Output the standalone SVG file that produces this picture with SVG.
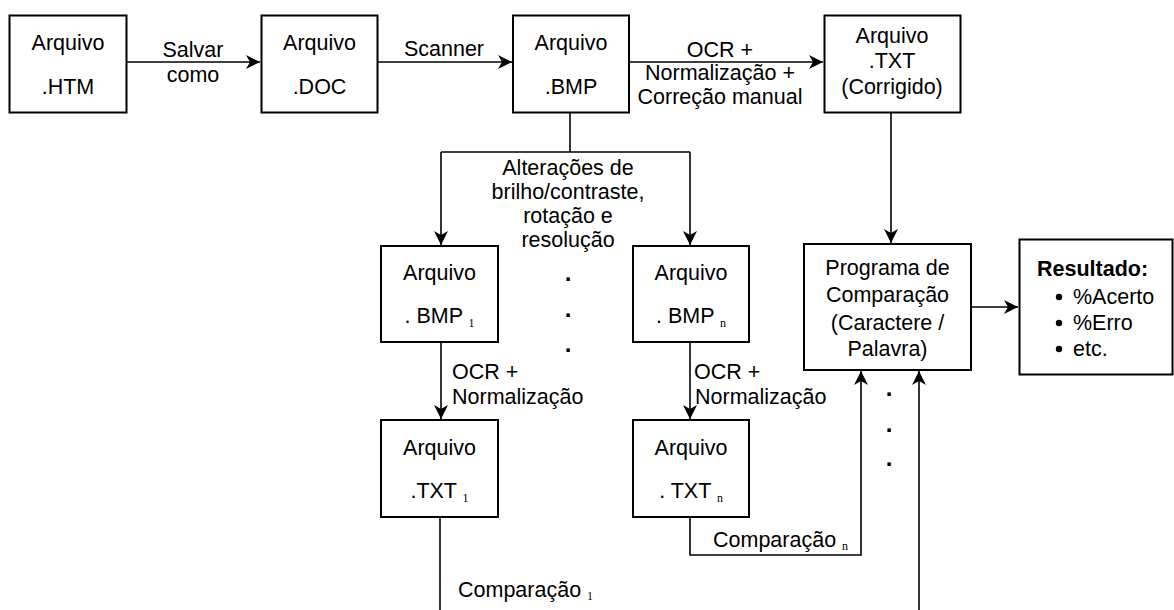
<svg xmlns="http://www.w3.org/2000/svg" width="1174" height="610" viewBox="0 0 1174 610">
<defs>
<style>
.box{fill:#fff;stroke:#000;stroke-width:2}
.ln{fill:none;stroke:#000;stroke-width:1.6}
.t{font-family:"Liberation Sans",Arial,sans-serif;font-size:21.5px;fill:#000}
.c{text-anchor:middle}
.b{font-weight:bold}
.sub{font-family:"Liberation Serif","Times New Roman",serif;font-size:12px}
.dot{font-family:"Liberation Sans",Arial,sans-serif;font-size:24px;font-weight:bold;text-anchor:middle;fill:#000}
</style>
<marker id="arr" markerWidth="16" markerHeight="16" viewBox="-1 -8 16 16" refX="14" refY="0" orient="auto" markerUnits="userSpaceOnUse">
<path d="M0,-7 L14,0 L0,7 L4,0 Z" fill="#000"/>
</marker>
</defs>
<rect width="1174" height="610" fill="#fff"/>

<g id="connectors">
<path class="ln" d="M126,62 H260" marker-end="url(#arr)"/>
<path class="ln" d="M378,62 H512" marker-end="url(#arr)"/>
<path class="ln" d="M629,62 H823" marker-end="url(#arr)"/>
<path class="ln" d="M570,113 V152"/>
<path class="ln" d="M441,152 H690"/>
<path class="ln" d="M441,152 V245" marker-end="url(#arr)"/>
<path class="ln" d="M690,152 V245" marker-end="url(#arr)"/>
<path class="ln" d="M441,342 V419" marker-end="url(#arr)"/>
<path class="ln" d="M690,342 V419" marker-end="url(#arr)"/>
<path class="ln" d="M891,113 V243" marker-end="url(#arr)"/>
<path class="ln" d="M440,517 V612"/>
<path class="ln" d="M690,517 V555 H861 V371" marker-end="url(#arr)"/>
<path class="ln" d="M919,612 V371" marker-end="url(#arr)"/>
<path class="ln" d="M971,307 H1018" marker-end="url(#arr)"/>
</g>

<g id="labels">
<text class="t c" x="193" y="57">Salvar</text>
<text class="t c" x="193" y="82">como</text>
<text class="t c" x="444" y="56">Scanner</text>
<text class="t c" x="720" y="57">OCR +</text>
<text class="t c" x="720" y="80">Normalização +</text>
<text class="t c" x="720" y="104">Correção manual</text>
<text class="t c" x="568" y="175">Alterações de</text>
<text class="t c" x="568" y="199">brilho/contraste,</text>
<text class="t c" x="568" y="223">rotação e</text>
<text class="t c" x="568" y="247">resolução</text>
<text class="dot" x="568" y="281">.</text>
<text class="dot" x="568" y="317">.</text>
<text class="dot" x="568" y="352">.</text>
<text class="t" x="452" y="379">OCR +</text>
<text class="t" x="452" y="404">Normalização</text>
<text class="t" x="694" y="379">OCR +</text>
<text class="t" x="695" y="404">Normalização</text>
<text class="t" x="713" y="547">Comparação <tspan class="sub" dy="3">n</tspan></text>
<text class="t" x="458" y="597">Comparação <tspan class="sub" dy="3">1</tspan></text>
<text class="dot" x="889" y="396">.</text>
<text class="dot" x="889" y="432">.</text>
<text class="dot" x="889" y="466">.</text>
</g>

<g id="n-htm">
<rect class="box" x="9.5" y="15.5" width="117" height="97"/>
<text class="t c" x="68" y="50">Arquivo</text>
<text class="t c" x="68" y="94">.HTM</text>
</g>
<g id="n-doc">
<rect class="box" x="261.5" y="15.5" width="116" height="97"/>
<text class="t c" x="319.5" y="50">Arquivo</text>
<text class="t c" x="319.5" y="94">.DOC</text>
</g>
<g id="n-bmp">
<rect class="box" x="513" y="15.5" width="116" height="97"/>
<text class="t c" x="571" y="50">Arquivo</text>
<text class="t c" x="571" y="94">.BMP</text>
</g>
<g id="n-txtc">
<rect class="box" x="824.5" y="15.5" width="136" height="97"/>
<text class="t c" x="892" y="43">Arquivo</text>
<text class="t c" x="892" y="68">.TXT</text>
<text class="t c" x="892" y="94">(Corrigido)</text>
</g>
<g id="n-bmp1">
<rect class="box" x="381" y="246" width="117" height="96"/>
<text class="t c" x="439.5" y="280">Arquivo</text>
<text class="t c" x="439.5" y="323">. BMP <tspan class="sub" dy="4">1</tspan></text>
</g>
<g id="n-bmpn">
<rect class="box" x="633" y="246" width="116" height="96"/>
<text class="t c" x="691" y="280">Arquivo</text>
<text class="t c" x="691" y="323">. BMP <tspan class="sub" dy="4">n</tspan></text>
</g>
<g id="n-txt1">
<rect class="box" x="381" y="420" width="117" height="97"/>
<text class="t c" x="439.5" y="455">Arquivo</text>
<text class="t c" x="439.5" y="498">.TXT <tspan class="sub" dy="4">1</tspan></text>
</g>
<g id="n-txtn">
<rect class="box" x="633" y="420" width="116" height="97"/>
<text class="t c" x="691" y="455">Arquivo</text>
<text class="t c" x="691" y="498">. TXT <tspan class="sub" dy="4">n</tspan></text>
</g>
<g id="n-prog">
<rect class="box" x="804" y="244" width="167" height="126"/>
<text class="t c" x="887.5" y="275">Programa de</text>
<text class="t c" x="887.5" y="302">Comparação</text>
<text class="t c" x="887.5" y="330">(Caractere /</text>
<text class="t c" x="887.5" y="356">Palavra)</text>
</g>
<g id="n-res">
<rect class="box" x="1019.5" y="239.5" width="153" height="135"/>
<text class="t b" x="1037" y="276">Resultado:</text>
<circle cx="1059" cy="297" r="3.2" fill="#000"/>
<text class="t" x="1073" y="304">%Acerto</text>
<circle cx="1059" cy="323" r="3.2" fill="#000"/>
<text class="t" x="1073" y="330">%Erro</text>
<circle cx="1059" cy="349" r="3.2" fill="#000"/>
<text class="t" x="1073" y="356">etc.</text>
</g>
</svg>
